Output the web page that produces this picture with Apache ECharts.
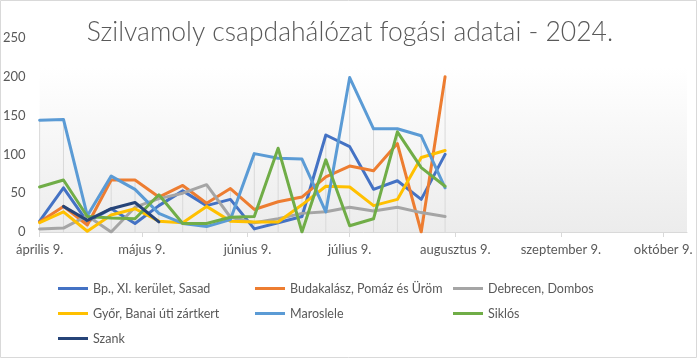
<!DOCTYPE html>
<html>
<head>
<meta charset="utf-8">
<script src="https://cdn.jsdelivr.net/npm/echarts@6/dist/echarts.min.js"></script>
<style>
html,body{margin:0;padding:0;background:#fff;}
#chart{width:700px;height:361px;}
</style>
</head>
<body>
<div id="chart"></div>
<script>
// ---- data ----
var titleText = 'Szilvamoly csapdahálózat fogási adatai - 2024.';
var sampleDates = ['2024-04-09','2024-04-16','2024-04-23','2024-04-30','2024-05-07','2024-05-14','2024-05-21','2024-05-28','2024-06-04','2024-06-11','2024-06-18','2024-06-25','2024-07-02','2024-07-09','2024-07-16','2024-07-23','2024-07-30','2024-08-06'];
var seriesNames = ['Bp., XI. kerület, Sasad','Budakalász, Pomáz és Üröm','Debrecen, Dombos','Győr, Banai úti zártkert','Maroslele','Siklós','Szank'];
var bpSasad     = [14, 57, 13, 30, 11, 34, 53, 34, 42, 4, 12, 20, 125, 110, 55, 66, 42, 100];
var budakalasz  = [13, 33, 9, 67, 67, 45, 60, 37, 56, 29, 39, 45, 71, 85, 79, 114, 0, 200];
var debrecen    = [4, 5, 21, 0, 32, 43, 50, 61, 19, 12, 17, 24, 26, 32, 27, 32, 25, 20];
var gyor        = [12, 26, 1, 22, 30, 14, 12, 33, 14, 13, 13, 35, 59, 58, 34, 42, 96, 105];
var maroslele   = [144, 145, 21, 72, 55, 24, 11, 7, 16, 101, 95, 94, 26, 199, 133, 133, 124, 57];
var siklos      = [58, 67, 20, 18, 17, 48, 11, 11, 19, 20, 108, 0, 93, 8, 17, 129, 83, 59];
var szank       = [null, 33, 15, 30, 38, 13, null, null, null, null, null, null, null, null, null, null, null, null];
var tickDates   = ['2024-04-09','2024-05-09','2024-06-09','2024-07-09','2024-08-09','2024-09-09','2024-10-09'];
var tickLabels  = ['április 9.','május 9.','június 9.','július 9.','augusztus 9.','szeptember 9.','október 9.'];
var axisMinDate = '2024-04-09';
var axisMaxDate = '2024-10-16';

// ---- build ----
var DAY = 86400000;
function utc(s){ var p = s.split('-'); return Date.UTC(+p[0], +p[1]-1, +p[2]); }
var t0 = utc(axisMinDate);
function dayOf(s){ return Math.round((utc(s) - t0) / DAY); }
var allValues = [bpSasad, budakalasz, debrecen, gyor, maroslele, siklos, szank];
var colors = ['#4472C4','#ED7D31','#A5A5A5','#FFC000','#5B9BD5','#70AD47','#264478'];
var tickDays = tickDates.map(dayOf);
var font = 'Lato, "Liberation Sans", sans-serif';

var series = [];
// drop lines (from highest point down to the axis)
series.push({
  type: 'bar', name: '_drop', silent: true, barWidth: 1, z: 1,
  itemStyle: { color: '#D9D9D9' },
  data: sampleDates.map(function(d, i){
    var m = null;
    allValues.forEach(function(arr){ if (arr[i] != null && (m == null || arr[i] > m)) m = arr[i]; });
    return [dayOf(d), m];
  })
});
seriesNames.forEach(function(n, si){
  series.push({
    type: 'line', name: n, symbol: 'none', showSymbol: false, connectNulls: false, z: 3,
    color: colors[si],
    lineStyle: { width: 3, color: colors[si], cap: 'round', join: 'round' },
    data: sampleDates.map(function(d, i){ return [dayOf(d), allValues[si][i]]; })
  });
});

var legendPos = [[58,282],[255,282],[453,282],[58,307],[255,307],[453,307],[58,332]];
var legends = seriesNames.map(function(n, i){
  return {
    data: [n], left: legendPos[i][0], top: legendPos[i][1],
    icon: 'rect', itemWidth: 30, itemHeight: 3, itemGap: 4,
    textStyle: { color: '#595959', fontSize: 12.5, fontFamily: font },
    padding: 0, selectedMode: false
  };
});

var chart = echarts.init(document.getElementById('chart'), null, { renderer: 'canvas' });
chart.setOption({
  animation: false,
  backgroundColor: '#fff',
  title: {
    text: titleText, left: 'center', top: 14,
    textStyle: { color: '#595959', fontSize: 26.5, fontWeight: 300, fontFamily: font }
  },
  graphic: [{
    type: 'rect', shape: { x: 0.5, y: 0.5, width: 696, height: 357 },
    style: { fill: 'none', stroke: '#D9D9D9', lineWidth: 1 }, silent: true, z: -10
  }],
  legend: legends,
  grid: {
    left: 39, right: 13, top: 38, bottom: 129, show: true, borderWidth: 0,
    backgroundColor: new echarts.graphic.LinearGradient(0, 0, 0, 1, [
      { offset: 0, color: '#FFFFFF' }, { offset: 0.15, color: '#FFFFFF' }, { offset: 1, color: '#ECECEC' }
    ])
  },
  xAxis: {
    type: 'value', min: 0, max: dayOf(axisMaxDate),
    axisLine: { show: true, onZero: false, lineStyle: { color: '#D9D9D9', width: 1 } },
    axisTick: { show: true, length: 5, lineStyle: { color: '#D9D9D9' }, customValues: tickDays },
    splitLine: { show: false },
    axisLabel: { show: false }
  },
  yAxis: {
    type: 'value', min: 0, max: 250, interval: 50,
    axisLine: { show: false }, axisTick: { show: false }, splitLine: { show: false },
    axisLabel: { color: '#595959', fontSize: 13, fontFamily: font, margin: 14 }
  },
  series: series
});

// date-axis labels, placed through the chart's own x scale
var labelGraphics = tickDays.map(function(d, i){
  var p = chart.convertToPixel({ gridIndex: 0 }, [d, 0]);
  return {
    type: 'text', silent: true, z: 10, x: p[0], y: p[1] + 11,
    style: { text: tickLabels[i], fill: '#595959', fontSize: 13, fontFamily: font, align: 'center', verticalAlign: 'top' }
  };
});
chart.setOption({ graphic: [{
    type: 'rect', shape: { x: 0.5, y: 0.5, width: 696, height: 357 },
    style: { fill: 'none', stroke: '#D9D9D9', lineWidth: 1 }, silent: true, z: -10
  }].concat(labelGraphics) });
</script>
</body>
</html>
